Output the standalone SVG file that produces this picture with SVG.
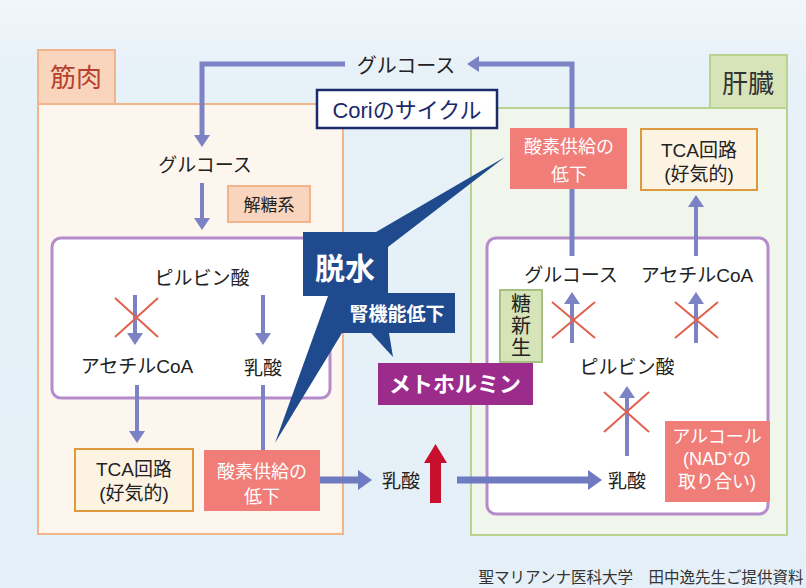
<svg xmlns="http://www.w3.org/2000/svg" width="806" height="588" viewBox="0 0 806 588">
<defs>
<linearGradient id="bg" x1="0" y1="0" x2="0" y2="1">
<stop offset="0" stop-color="#f1f6fa"/>
<stop offset="0.12" stop-color="#e7f1f8"/>
<stop offset="1" stop-color="#e5eff7"/>
</linearGradient>
<marker id="a" markerUnits="userSpaceOnUse" markerWidth="12" markerHeight="16" refX="0" refY="8" orient="auto">
<path d="M0,0 L12,8 L0,16 z" fill="#7b83c4"/>
</marker>
<marker id="aL" markerUnits="userSpaceOnUse" markerWidth="14" markerHeight="20" refX="0" refY="10" orient="auto">
<path d="M0,0 L14,10 L0,20 z" fill="#6f7bc0"/>
</marker>
<style>
.t{font-family:"Liberation Sans","Noto Sans CJK JP",sans-serif;fill:#222;text-anchor:middle}
.w{fill:#fff}
.b{font-weight:bold}
.ln{fill:none;stroke:#7b83c4;stroke-width:5}
.lt{fill:none;stroke:#7b83c4;stroke-width:4}
.lL{fill:none;stroke:#6f7bc0;stroke-width:7}
.x{stroke:#e0624c;stroke-width:2}
.red{fill:#f07d78}
.tca{fill:#fdf3e2;stroke:#dc9a3c;stroke-width:2}
.pur{fill:#ffffff;stroke:#b58ccb;stroke-width:3}
</style>
</defs>
<rect width="806" height="588" fill="url(#bg)"/>

<g id="muscle">
<rect x="38" y="104" width="305" height="430" fill="#fcf6ee" stroke="#f2b48a" stroke-width="2"/>
<rect x="38" y="50" width="77" height="54" fill="#f9d5bd" stroke="#f2b48a" stroke-width="2"/>
<text class="t" x="76" y="87" font-size="26" style="fill:#b5412e">筋肉</text>
</g>
<g id="liver">
<rect x="471" y="108" width="316" height="427" fill="#f0f6ec" stroke="#b9d38f" stroke-width="2"/>
<rect x="710" y="55" width="77" height="53" fill="#d6e4b8" stroke="#b9d38f" stroke-width="2"/>
<text class="t" x="748" y="93" font-size="26" style="fill:#333">肝臓</text>
</g>
<g id="muscle-inner"><rect class="pur" x="52" y="238" width="278" height="160" rx="9"/></g>
<g id="liver-inner"><rect class="pur" x="487" y="238" width="281" height="276" rx="9"/></g>

<g id="connectors">
<path class="ln" d="M572,256 V64 H479" marker-end="url(#a)"/>
<path class="ln" d="M345,64 H202 V135" marker-end="url(#a)"/>
<path class="lt" d="M202,183 V218" marker-end="url(#a)"/>
<path class="lt" d="M135,295 V333" marker-end="url(#a)"/>
<path class="lt" d="M263,295 V333" marker-end="url(#a)"/>
<path class="lt" d="M137,385 V431" marker-end="url(#a)"/>
<path class="lt" d="M263,385 V452"/>
<path class="lL" d="M320,480 H358" marker-end="url(#aL)"/>
<path class="lL" d="M457,480 H588" marker-end="url(#aL)"/>
<path class="lt" d="M572,343 V304" marker-end="url(#a)"/>
<path class="lt" d="M696,343 V304" marker-end="url(#a)"/>
<path class="lt" d="M696,256 V207" marker-end="url(#a)"/>
<path class="lt" d="M627,456 V398" marker-end="url(#a)"/>
<g id="blocks">
<path class="x" d="M115,298 L158,337 M158,298 L115,337"/>
<path class="x" d="M552,302 L595,338 M595,302 L552,338"/>
<path class="x" d="M675,302 L718,338 M718,302 L675,338"/>
<path class="x" d="M604,392 L649,432 M649,392 L604,432"/>
</g>
</g>

<g id="glucose-top"><text class="t" x="406" y="73" font-size="20">グルコース</text></g>
<g id="cori">
<rect x="317" y="90" width="180" height="38" fill="#fff" stroke="#1b2a6b" stroke-width="2.5"/>
<text class="t" x="407" y="118" font-size="22" style="fill:#1b2a6b">Coriのサイクル</text>
</g>
<g id="m-glucose"><text class="t" x="205" y="172" font-size="19">グルコース</text></g>
<g id="glycolysis">
<rect x="228" y="186" width="82" height="36" fill="#f9d5bd" stroke="#f2b48a" stroke-width="2"/>
<text class="t" x="269" y="211" font-size="17">解糖系</text>
</g>
<g id="m-pyruvate"><text class="t" x="202" y="285" font-size="19">ピルビン酸</text></g>
<g id="m-acetyl"><text class="t" x="137" y="373" font-size="19">アセチルCoA</text></g>
<g id="m-lactate"><text class="t" x="263" y="375" font-size="19">乳酸</text></g>
<g id="m-tca">
<rect class="tca" x="75" y="449" width="118" height="62"/>
<text class="t" font-size="19"><tspan x="134" y="476">TCA回路</tspan><tspan x="134" y="500">(好気的)</tspan></text>
</g>
<g id="m-o2">
<rect class="red" x="204" y="450" width="116" height="61"/>
<text class="t w" font-size="18"><tspan x="262" y="478">酸素供給の</tspan><tspan x="262" y="503">低下</tspan></text>
</g>
<g id="lactate-mid"><text class="t" x="401" y="488" font-size="19">乳酸</text></g>
<g id="up-arrow">
<rect x="430" y="461" width="11" height="42" fill="#c8102e"/>
<polygon points="424,463 435.5,444 447,463" fill="#c8102e"/>
</g>
<g id="l-o2">
<rect class="red" x="510" y="128" width="117" height="61"/>
<text class="t w" font-size="18"><tspan x="569" y="153">酸素供給の</tspan><tspan x="569" y="181">低下</tspan></text>
</g>
<g id="l-tca">
<rect class="tca" x="641" y="129" width="116" height="61"/>
<text class="t" font-size="19"><tspan x="699" y="157">TCA回路</tspan><tspan x="699" y="181">(好気的)</tspan></text>
</g>
<g id="l-glucose"><text class="t" x="571" y="282" font-size="19">グルコース</text></g>
<g id="l-acetyl"><text class="t" x="697" y="282" font-size="19">アセチルCoA</text></g>
<g id="gluconeogenesis">
<rect x="500" y="290" width="42" height="72" fill="#d6e4b8" stroke="#a6bf82" stroke-width="2"/>
<text x="521" y="326" font-size="20" writing-mode="vertical-rl" letter-spacing="2" style="font-family:'Noto Sans CJK JP',sans-serif;fill:#222;text-anchor:middle">糖新生</text>
</g>
<g id="l-pyruvate"><text class="t" x="627" y="374" font-size="19">ピルビン酸</text></g>
<g id="l-lactate"><text class="t" x="627" y="488" font-size="19">乳酸</text></g>
<g id="alcohol">
<rect class="red" x="665" y="421" width="105" height="81"/>
<text class="t w" font-size="18"><tspan x="717" y="443">アルコール</tspan><tspan x="717" y="465">(NAD⁺の</tspan><tspan x="717" y="488">取り合い)</tspan></text>
</g>
<g id="dehydration">
<polygon points="303,232 376,232 505,157 388,247 388,293 455,293 455,333 389,333 393,357 371,333 342,333 275,443 328,296 303,296" fill="#1f4b8e"/>
<text class="t w b" x="345" y="279" font-size="30">脱水</text>
<text class="t w b" x="397" y="321" font-size="19">腎機能低下</text>
</g>
<g id="metformin">
<rect x="378" y="363" width="155" height="42" fill="#9c2c8c"/>
<text class="t w b" x="455" y="392" font-size="22">メトホルミン</text>
</g>
<g id="credit"><text class="t" x="641" y="583" font-size="15.5" style="fill:#333">聖マリアンナ医科大学　田中逸先生ご提供資料</text></g>
</svg>
